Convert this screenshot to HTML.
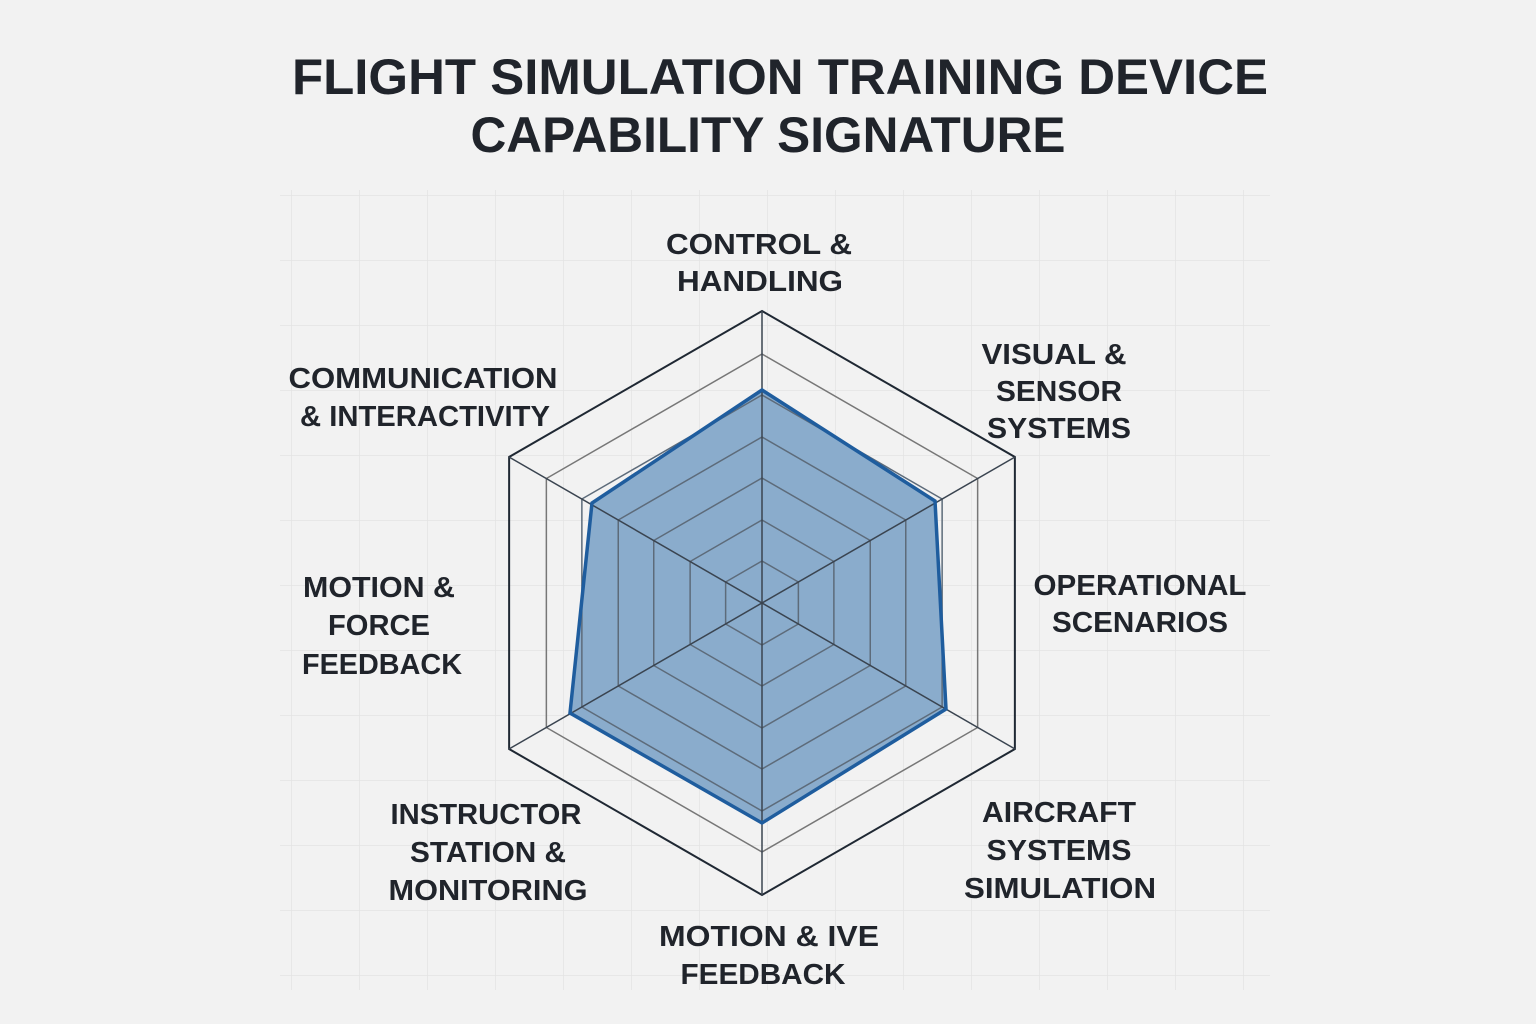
<!DOCTYPE html>
<html><head><meta charset="utf-8"><style>
html,body{margin:0;padding:0;background:#f2f2f2;}
svg{display:block}
text{font-family:"Liberation Sans",Arial,sans-serif;font-weight:bold;fill:#20242b;}
</style></head><body>
<svg width="1536" height="1024" viewBox="0 0 1536 1024" xmlns="http://www.w3.org/2000/svg">
<defs>
<pattern id="g" width="68" height="65" patternUnits="userSpaceOnUse" x="19" y="0">
<path d="M0 0V65M0 0H68" stroke="#e3e3e3" stroke-width="1.5" fill="none"/>
</pattern>
</defs>
<rect width="1536" height="1024" fill="#f2f2f2"/>
<rect x="280" y="190" width="990" height="800" fill="url(#g)"/>

<text x="780" y="94" font-size="50" text-anchor="middle" textLength="976" lengthAdjust="spacingAndGlyphs">FLIGHT SIMULATION TRAINING DEVICE</text>
<text x="768" y="152" font-size="50" text-anchor="middle" textLength="595" lengthAdjust="spacingAndGlyphs">CAPABILITY SIGNATURE</text>

<g fill="none">
<polygon points="0,-1 0.866,-0.5 0.866,0.5 0,1 -0.866,0.5 -0.866,-0.5" transform="translate(762,603) scale(292)" stroke="#1f2833" stroke-width="2" vector-effect="non-scaling-stroke"/>
<polygon points="0,-1 0.866,-0.5 0.866,0.5 0,1 -0.866,0.5 -0.866,-0.5" transform="translate(762,603) scale(249)" stroke="#777" stroke-width="1.5" vector-effect="non-scaling-stroke"/>
</g>
<polygon points="762,390 935,501 946,709 762,823 570,713 592,503" fill="#8aaccc" stroke="none"/>
<g fill="none" stroke="#5d6b7a" stroke-width="1.5">
<polygon points="0,-1 0.866,-0.5 0.866,0.5 0,1 -0.866,0.5 -0.866,-0.5" transform="translate(762,603) scale(208)" vector-effect="non-scaling-stroke"/>
<polygon points="0,-1 0.866,-0.5 0.866,0.5 0,1 -0.866,0.5 -0.866,-0.5" transform="translate(762,603) scale(166)" vector-effect="non-scaling-stroke"/>
<polygon points="0,-1 0.866,-0.5 0.866,0.5 0,1 -0.866,0.5 -0.866,-0.5" transform="translate(762,603) scale(125)" vector-effect="non-scaling-stroke"/>
<polygon points="0,-1 0.866,-0.5 0.866,0.5 0,1 -0.866,0.5 -0.866,-0.5" transform="translate(762,603) scale(83)" vector-effect="non-scaling-stroke"/>
<polygon points="0,-1 0.866,-0.5 0.866,0.5 0,1 -0.866,0.5 -0.866,-0.5" transform="translate(762,603) scale(42)" vector-effect="non-scaling-stroke"/>
</g>
<g stroke="#3a4450" stroke-width="1.5">
<line x1="762" y1="311" x2="762" y2="895"/>
<line x1="509" y1="457" x2="1015" y2="749"/>
<line x1="509" y1="749" x2="1015" y2="457"/>
</g>
<polygon points="762,390 935,501 946,709 762,823 570,713 592,503" fill="none" stroke="#1f5d9e" stroke-width="3.5" stroke-linejoin="miter"/>

<g font-size="29" text-anchor="middle">
<text x="759" y="254" textLength="186" lengthAdjust="spacingAndGlyphs">CONTROL &amp;</text>
<text x="760" y="291" textLength="166" lengthAdjust="spacingAndGlyphs">HANDLING</text>
<text x="1054" y="364" textLength="145" lengthAdjust="spacingAndGlyphs">VISUAL &amp;</text>
<text x="1059" y="401" textLength="126" lengthAdjust="spacingAndGlyphs">SENSOR</text>
<text x="1059" y="438" textLength="144" lengthAdjust="spacingAndGlyphs">SYSTEMS</text>
<text x="423" y="388" textLength="269" lengthAdjust="spacingAndGlyphs">COMMUNICATION</text>
<text x="425" y="426" textLength="250" lengthAdjust="spacingAndGlyphs">&amp; INTERACTIVITY</text>
<text x="1140" y="595" textLength="213" lengthAdjust="spacingAndGlyphs">OPERATIONAL</text>
<text x="1140" y="632" textLength="176" lengthAdjust="spacingAndGlyphs">SCENARIOS</text>
<text x="379" y="597" textLength="152" lengthAdjust="spacingAndGlyphs">MOTION &amp;</text>
<text x="379" y="635" textLength="102" lengthAdjust="spacingAndGlyphs">FORCE</text>
<text x="382" y="674" textLength="160" lengthAdjust="spacingAndGlyphs">FEEDBACK</text>
<text x="486" y="824" textLength="191" lengthAdjust="spacingAndGlyphs">INSTRUCTOR</text>
<text x="488" y="862" textLength="156" lengthAdjust="spacingAndGlyphs">STATION &amp;</text>
<text x="488" y="900" textLength="199" lengthAdjust="spacingAndGlyphs">MONITORING</text>
<text x="1059" y="822" textLength="154" lengthAdjust="spacingAndGlyphs">AIRCRAFT</text>
<text x="1059" y="860" textLength="145" lengthAdjust="spacingAndGlyphs">SYSTEMS</text>
<text x="1060" y="898" textLength="192" lengthAdjust="spacingAndGlyphs">SIMULATION</text>
<text x="769" y="946" textLength="220" lengthAdjust="spacingAndGlyphs">MOTION &amp; IVE</text>
<text x="763" y="984" textLength="165" lengthAdjust="spacingAndGlyphs">FEEDBACK</text>
</g>
</svg>
</body></html>
